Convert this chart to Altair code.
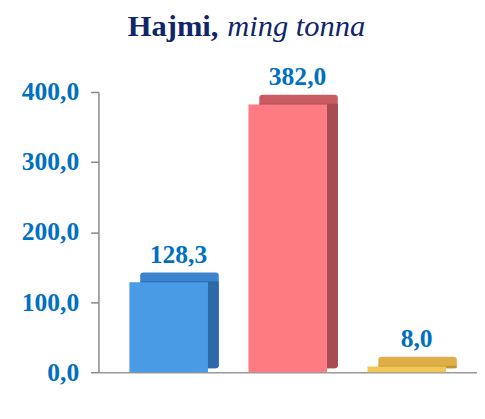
import altair as alt
import pandas as pd

categories = ["1", "2", "3"]
values = [128.3, 382.0, 8.0]
labels = ["128,3", "382,0", "8,0"]
front_colors = ["#4A9BE6", "#FF7B82", "#F4C857"]
top_colors = ["#3D84CE", "#C95B63", "#DFAE48"]
side_colors = ["#2F68A8", "#A84C54", "#C0932E"]
y_ticks = [0, 100, 200, 300, 400]

df = pd.DataFrame({
    "cat": categories,
    "val": values,
    "lab": labels,
    "front": front_colors,
    "top": top_colors,
    "side": side_colors,
    "zero": [0, 0, 0],
})

FONT = "Liberation Serif"
BLUE = "#0070C0"

x_enc = alt.X("cat:N", axis=alt.Axis(labels=False, ticks=False, title=None,
                                        domainColor="#999999", domainWidth=1.5),
              scale=alt.Scale(paddingInner=0.34, paddingOuter=0.26))
y_scale = alt.Scale(domain=[0, 400])
y_axis = alt.Axis(values=y_ticks, title=None, grid=False,
                  labelExpr="replace(format(datum.value, '.1f'), '.', ',')",
                  labelFont=FONT, labelFontSize=26, labelFontWeight="bold",
                  labelColor=BLUE, labelPadding=12, tickSize=8,
                  tickColor="#888888", domainColor="#888888", domainWidth=1.5,
                  tickWidth=1.5)

base = alt.Chart(df)
y_enc = alt.Y("val:Q", scale=y_scale, axis=y_axis, stack=None)
y2_enc = alt.Y2("zero:Q")

top_face = base.mark_bar(xOffset=11, x2Offset=11, yOffset=-10, y2Offset=-4,
                         cornerRadius=3).encode(
    x=x_enc, y=y_enc, y2=y2_enc,
    color=alt.Color("top:N", scale=None),
)

side_face = base.mark_bar(xOffset=11, x2Offset=11, yOffset=-1, y2Offset=-4,
                          cornerRadiusBottomRight=3).encode(
    x=x_enc, y=y_enc, y2=y2_enc,
    color=alt.Color("side:N", scale=None),
)

front = base.mark_bar().encode(
    x=x_enc, y=y_enc, y2=y2_enc,
    color=alt.Color("front:N", scale=None),
)

text = base.mark_text(font=FONT, fontSize=26, fontWeight="bold", color=BLUE,
                      baseline="alphabetic", dx=10, dy=-20).encode(
    x=x_enc,
    y=alt.Y("val:Q", scale=y_scale, axis=y_axis),
    text="lab:N",
)

title1 = alt.Chart(pd.DataFrame({"t": ["Hajmi,"]})).mark_text(
    font=FONT, fontSize=31, fontWeight="bold", color="#10266A",
    align="right", baseline="alphabetic"
).encode(text="t:N", x=alt.value(122), y=alt.value(-57))

title2 = alt.Chart(pd.DataFrame({"t": ["ming tonna"]})).mark_text(
    font=FONT, fontSize=31, fontStyle="italic", color="#10266A",
    align="left", baseline="alphabetic"
).encode(text="t:N", x=alt.value(131), y=alt.value(-57))

chart = alt.layer(top_face, side_face, front, text, title1, title2).properties(
    width=385, height=285,
    autosize=alt.AutoSizeParams(type="none"),
    padding={"left": 92, "top": 82, "right": 0, "bottom": 36},
).configure_view(stroke=None)

chart.save("out.html", embed_options={"renderer": "svg", "actions": False})
